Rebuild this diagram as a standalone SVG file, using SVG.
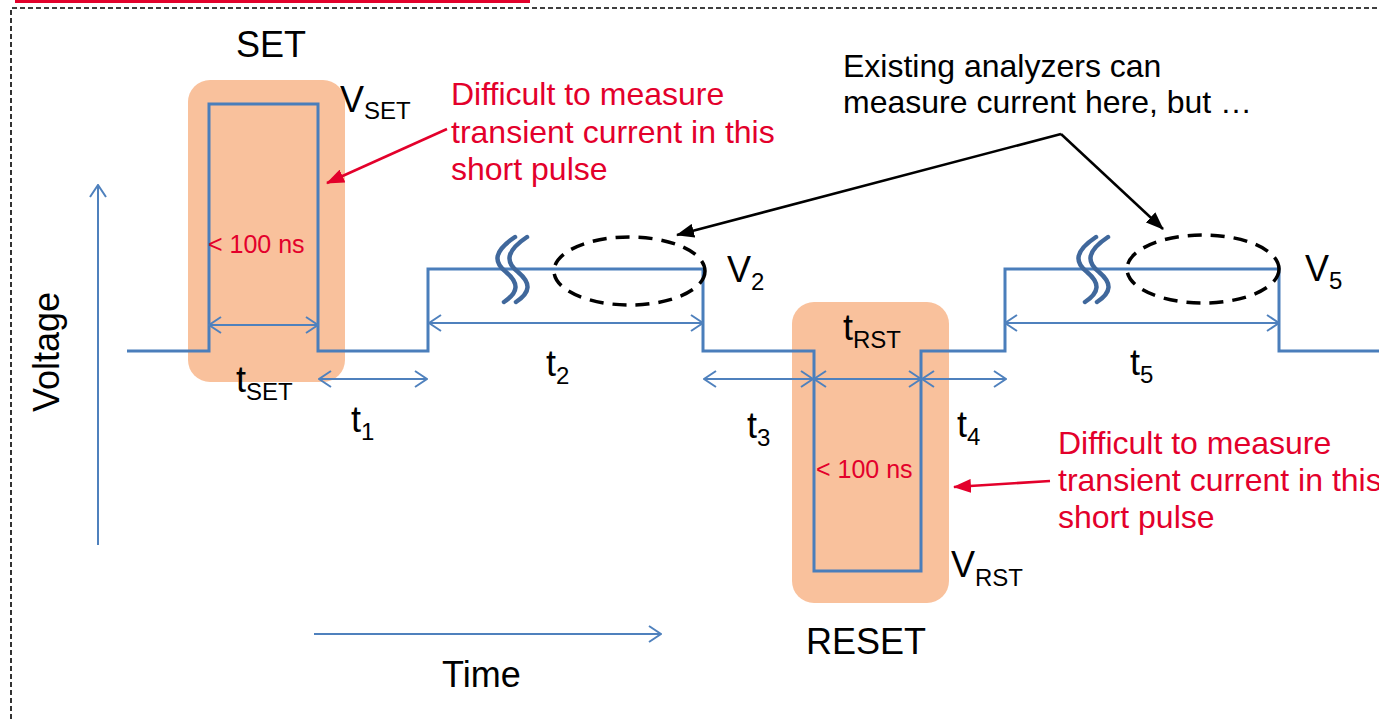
<svg xmlns="http://www.w3.org/2000/svg" width="1379" height="719" viewBox="0 0 1379 719">
<style>
text{font-family:"Liberation Sans",Arial,sans-serif;fill:#000}
.big{font-size:36px}
.mid{font-size:32px}
.red{fill:#E3002B}
.small{font-size:24px}
.ns{font-size:25px}
.pulse{fill:none;stroke:#4A7EBB;stroke-width:3;stroke-linejoin:miter}
.dim{fill:none;stroke:#4F81BD;stroke-width:2}
.brk{fill:none;stroke:#40689C;stroke-width:4.5;stroke-linecap:round}
.oval{fill:none;stroke:#000;stroke-width:3.5;stroke-dasharray:14 9}
.hl{fill:#F9C19C}
</style>
<defs>
<marker id="chev" viewBox="0 0 14 18" refX="13" refY="9" markerWidth="14" markerHeight="18" markerUnits="userSpaceOnUse" orient="auto-start-reverse">
<path d="M1,1 L13,9 L1,17" fill="none" stroke="#4F81BD" stroke-width="2"/>
</marker>
<marker id="blk" viewBox="0 0 18 14" refX="17" refY="7" markerWidth="18" markerHeight="14" markerUnits="userSpaceOnUse" orient="auto">
<path d="M0,0 L18,7 L0,14 z" fill="#000"/>
</marker>
<marker id="redh" viewBox="0 0 18 14" refX="17" refY="7" markerWidth="18" markerHeight="14" markerUnits="userSpaceOnUse" orient="auto">
<path d="M0,0 L18,7 L0,14 z" fill="#E3002B"/>
</marker>
</defs>

<g id="frame">
<line x1="15" y1="1.5" x2="530" y2="1.5" stroke="#E3002B" stroke-width="3"/>
<path d="M11,719 V8 H1379" fill="none" stroke="#000" stroke-width="1.6" stroke-dasharray="5 3"/>
</g>

<g id="set-box"><rect class="hl" x="188" y="80" width="157" height="302" rx="22"/></g>
<g id="reset-box"><rect class="hl" x="792" y="302" width="157" height="301" rx="22"/></g>

<g id="waveform">
<path class="pulse" d="M127,351 H209 V104 H318 V351 H428 V269 H703 V351 H814 V571 H921 V351 H1005 V269 H1279 V351 H1379"/>
<path class="brk" d="M515,237 C494,251 493,262 506,272 C519,283 519,292 504,302"/>
<path class="brk" d="M527,237 C506,251 505,262 518,272 C531,283 531,292 516,302"/>
<path class="brk" d="M1096,237 C1075,251 1074,262 1087,272 C1100,283 1100,292 1085,302"/>
<path class="brk" d="M1108,237 C1087,251 1086,262 1099,272 C1112,283 1112,292 1097,302"/>
</g>

<g id="connectors">
<path class="dim" d="M98,545 V185" marker-end="url(#chev)"/>
<path class="dim" d="M314,634 H661" marker-end="url(#chev)"/>
<path class="dim" d="M209,325 H318" marker-start="url(#chev)" marker-end="url(#chev)"/>
<path class="dim" d="M319,379 H427" marker-start="url(#chev)" marker-end="url(#chev)"/>
<path class="dim" d="M429,323 H703" marker-start="url(#chev)" marker-end="url(#chev)"/>
<path class="dim" d="M704,379 H813" marker-start="url(#chev)" marker-end="url(#chev)"/>
<path class="dim" d="M814,379 H921" marker-start="url(#chev)" marker-end="url(#chev)"/>
<path class="dim" d="M922,379 H1006" marker-start="url(#chev)" marker-end="url(#chev)"/>
<path class="dim" d="M1005,323 H1279" marker-start="url(#chev)" marker-end="url(#chev)"/>
<path d="M1061,134 L677,235" fill="none" stroke="#000" stroke-width="2.5" marker-end="url(#blk)"/>
<path d="M1061,134 L1163,229" fill="none" stroke="#000" stroke-width="2.5" marker-end="url(#blk)"/>
<path d="M447,129 L327,183" fill="none" stroke="#E3002B" stroke-width="2.5" marker-end="url(#redh)"/>
<path d="M1050,481 L954,487" fill="none" stroke="#E3002B" stroke-width="2.5" marker-end="url(#redh)"/>
</g>

<g id="ellipses">
<ellipse class="oval" cx="629.5" cy="271" rx="75.5" ry="34"/>
<ellipse class="oval" cx="1203" cy="269" rx="76" ry="34"/>
</g>

<g id="labels">
<text class="big" x="236" y="57">SET</text>
<text class="big" x="806" y="654">RESET</text>
<text class="big" x="442" y="687">Time</text>
<text class="big" transform="translate(59,352) rotate(-90)" text-anchor="middle">Voltage</text>
<text class="big" x="340" y="112">V<tspan class="small" dy="7">SET</tspan></text>
<text class="big" x="951" y="577">V<tspan class="small" dy="9">RST</tspan></text>
<text class="big" x="727" y="282">V<tspan class="small" dy="8">2</tspan></text>
<text class="big" x="1305" y="281">V<tspan class="small" dy="8">5</tspan></text>
<text class="big" x="236" y="392">t<tspan class="small" dy="8">SET</tspan></text>
<text class="big" x="351" y="432">t<tspan class="small" dy="8">1</tspan></text>
<text class="big" x="546" y="376">t<tspan class="small" dy="8">2</tspan></text>
<text class="big" x="747" y="438">t<tspan class="small" dy="8">3</tspan></text>
<text class="big" x="957" y="437">t<tspan class="small" dy="8">4</tspan></text>
<text class="big" x="1130" y="375">t<tspan class="small" dy="8">5</tspan></text>
<text class="big" x="843" y="340">t<tspan class="small" dy="8">RST</tspan></text>
<text class="ns red" x="208" y="253">&lt; 100 ns</text>
<text class="ns red" x="816" y="478">&lt; 100 ns</text>
<text class="mid red" x="451"><tspan x="451" y="105">Difficult to measure</tspan><tspan x="451" y="143">transient current in this</tspan><tspan x="451" y="180">short pulse</tspan></text>
<text class="mid red" x="1058"><tspan x="1058" y="454">Difficult to measure</tspan><tspan x="1058" y="491">transient current in this</tspan><tspan x="1058" y="528">short pulse</tspan></text>
<text class="mid" x="843"><tspan x="843" y="77">Existing analyzers can</tspan><tspan x="843" y="113">measure current here, but …</tspan></text>
</g>
</svg>
